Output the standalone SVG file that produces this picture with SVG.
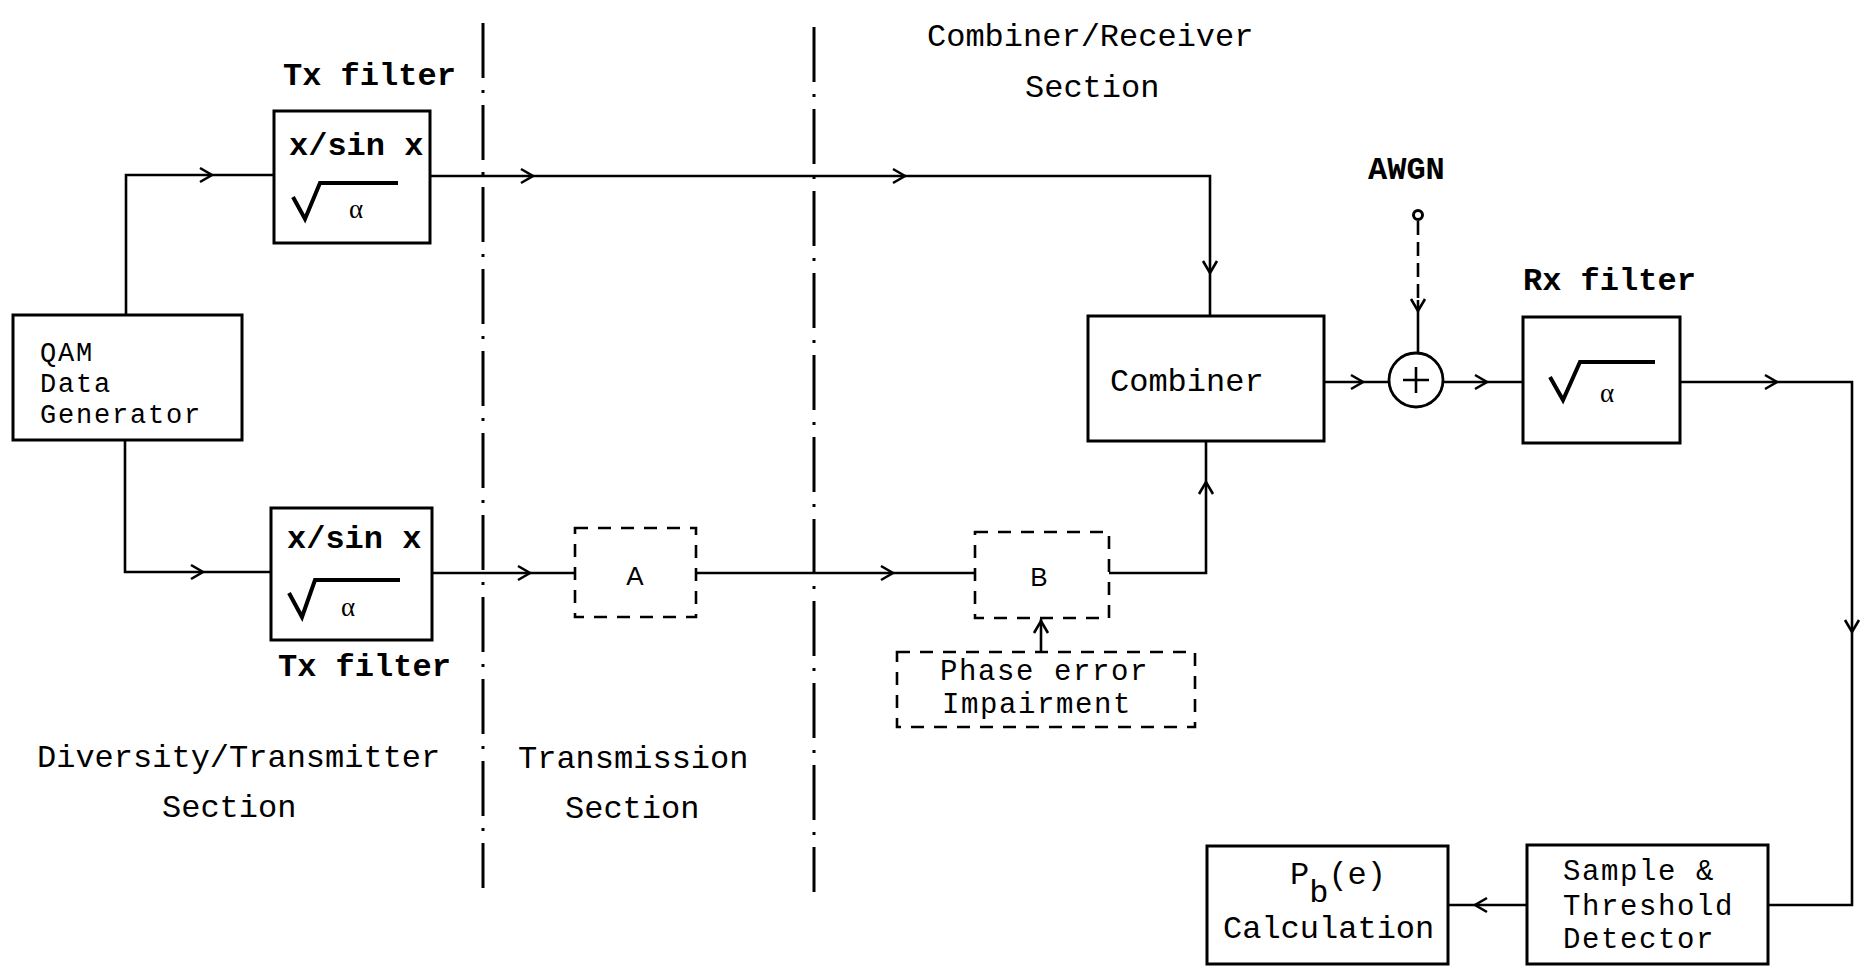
<svg xmlns="http://www.w3.org/2000/svg" xmlns:xlink="http://www.w3.org/1999/xlink" width="1867" height="973" viewBox="0 0 1867 973">
  <style>
    .box { fill: #fff; stroke: #000; stroke-width: 3; }
    .dbox { fill: none; stroke: #000; stroke-width: 2.6; stroke-dasharray: 13 10; }
    .wire { fill: none; stroke: #000; stroke-width: 2.6; stroke-linejoin: miter; }
    .divider { fill: none; stroke: #000; stroke-width: 3; stroke-dasharray: 55 12 3 12; }
    .root { fill: none; stroke: #000; stroke-width: 4; stroke-linejoin: miter; }
    .t { font-family: "Liberation Mono", "DejaVu Sans Mono", monospace; font-size: 32px; fill: #000; }
    .b { font-weight: bold; }
    .s { font-size: 27px; letter-spacing: 1.8px; }
    .m { font-size: 29px; letter-spacing: 1.6px; }
    .lbl { font-family: "Liberation Sans", Arial, sans-serif; font-size: 26px; fill: #000; text-anchor: middle; }
    .alpha { font-family: "Liberation Serif", "DejaVu Serif", serif; font-size: 27px; fill: #000; text-anchor: middle; }
  </style>
  <defs>
    <path id="ah" d="M-12,-7 L0,0 L-12,7" fill="none" stroke="#000" stroke-width="2.6"/>
  </defs>

  <rect width="1867" height="973" fill="#fff"/>

  <!-- section dividers -->
  <g id="dividers">
    <path class="divider" d="M483,23 V888"/>
    <path class="divider" d="M814,27 V892"/>
  </g>

  <!-- section titles -->
  <g id="section-labels">
    <text class="t" x="37" y="767">Diversity/Transmitter</text>
    <text class="t" x="162" y="817">Section</text>
    <text class="t" x="518" y="768">Transmission</text>
    <text class="t" x="565" y="818">Section</text>
    <text class="t" x="927" y="46">Combiner/Receiver</text>
    <text class="t" x="1025" y="97">Section</text>
  </g>

  <!-- connectors -->
  <g id="connectors">
    <path class="wire" d="M126,315 V175 H274"/>
    <use xlink:href="#ah" transform="translate(212,175)"/>
    <path class="wire" d="M125,440 V572 H271"/>
    <use xlink:href="#ah" transform="translate(203,572)"/>

    <path class="wire" d="M430,176 H1210 V316"/>
    <use xlink:href="#ah" transform="translate(533,176)"/>
    <use xlink:href="#ah" transform="translate(905,176)"/>
    <use xlink:href="#ah" transform="translate(1210,273) rotate(90)"/>

    <path class="wire" d="M432,573 H575"/>
    <use xlink:href="#ah" transform="translate(530,573)"/>
    <path class="wire" d="M696,573 H975"/>
    <use xlink:href="#ah" transform="translate(893,573)"/>
    <path class="wire" d="M1109,573 H1206 V441"/>
    <use xlink:href="#ah" transform="translate(1206,482) rotate(-90)"/>

    <path class="wire" d="M1041,652 V619"/>
    <use xlink:href="#ah" transform="translate(1041,621) rotate(-90)"/>

    <path class="wire" d="M1324,382 H1389"/>
    <use xlink:href="#ah" transform="translate(1363,382)"/>
    <path class="wire" d="M1443,382 H1523"/>
    <use xlink:href="#ah" transform="translate(1487,382)"/>

    <path class="wire" d="M1418,221 V300" stroke-dasharray="14 7"/>
    <path class="wire" d="M1418,300 V353"/>
    <use xlink:href="#ah" transform="translate(1418,311) rotate(90)"/>

    <path class="wire" d="M1680,382 H1852 V905 H1768"/>
    <use xlink:href="#ah" transform="translate(1777,382)"/>
    <use xlink:href="#ah" transform="translate(1852,632) rotate(90)"/>

    <path class="wire" d="M1527,905 H1448"/>
    <use xlink:href="#ah" transform="translate(1475,905) rotate(180)"/>
  </g>

  <!-- data source -->
  <g id="qam-generator">
    <rect class="box" x="13" y="315" width="229" height="125"/>
    <text class="t s" x="40" y="361">QAM</text>
    <text class="t s" x="40" y="392">Data</text>
    <text class="t s" x="40" y="423">Generator</text>
  </g>

  <!-- upper transmit filter -->
  <g id="tx-filter-1">
    <text class="t b" x="283" y="85">Tx filter</text>
    <rect class="box" x="274" y="111" width="156" height="132"/>
    <text class="t b" x="289" y="155">x/sin x</text>
    <path class="root" d="M293,197 L305,219 L320,183 H398"/>
    <text class="alpha" x="356" y="218">α</text>
  </g>

  <!-- lower transmit filter -->
  <g id="tx-filter-2">
    <rect class="box" x="271" y="508" width="161" height="132"/>
    <text class="t b" x="287" y="548">x/sin x</text>
    <path class="root" d="M289,593 L302,617 L315,580 H400"/>
    <text class="alpha" x="348" y="616">α</text>
    <text class="t b" x="278" y="676">Tx filter</text>
  </g>

  <!-- channel blocks -->
  <g id="block-a">
    <rect class="dbox" x="575" y="528" width="121" height="89"/>
    <text class="lbl" x="635" y="585">A</text>
  </g>

  <g id="block-b">
    <rect class="dbox" x="975" y="532" width="134" height="86"/>
    <text class="lbl" x="1039" y="586">B</text>
  </g>

  <g id="phase-error">
    <rect class="dbox" x="897" y="652" width="298" height="75"/>
    <text class="t m" x="940" y="680">Phase error</text>
    <text class="t m" x="942" y="713">Impairment</text>
  </g>

  <!-- receiver -->
  <g id="combiner">
    <rect class="box" x="1088" y="316" width="236" height="125"/>
    <text class="t" x="1110" y="391">Combiner</text>
  </g>

  <g id="awgn">
    <text class="t b" x="1368" y="179">AWGN</text>
    <circle cx="1418" cy="215" r="4.5" fill="#fff" stroke="#000" stroke-width="3"/>
  </g>

  <g id="summer">
    <circle cx="1416" cy="380" r="27" fill="#fff" stroke="#000" stroke-width="2.8"/>
    <path class="wire" d="M1416,367 V393 M1403,380 H1429"/>
  </g>

  <g id="rx-filter">
    <text class="t b" x="1523" y="290">Rx filter</text>
    <rect class="box" x="1523" y="317" width="157" height="126"/>
    <path class="root" d="M1550,377 L1563,400 L1580,362 H1655"/>
    <text class="alpha" x="1607" y="402">α</text>
  </g>

  <g id="detector">
    <rect class="box" x="1527" y="845" width="241" height="119"/>
    <text class="t m" x="1563" y="880">Sample &amp;</text>
    <text class="t m" x="1563" y="915">Threshold</text>
    <text class="t m" x="1563" y="948">Detector</text>
  </g>

  <g id="pb-calculation">
    <rect class="box" x="1207" y="846" width="241" height="118"/>
    <text class="t" x="1290" y="884" font-size="30">P<tspan dy="18">b</tspan><tspan dy="-18">(e)</tspan></text>
    <text class="t" x="1223" y="938">Calculation</text>
  </g>
</svg>
